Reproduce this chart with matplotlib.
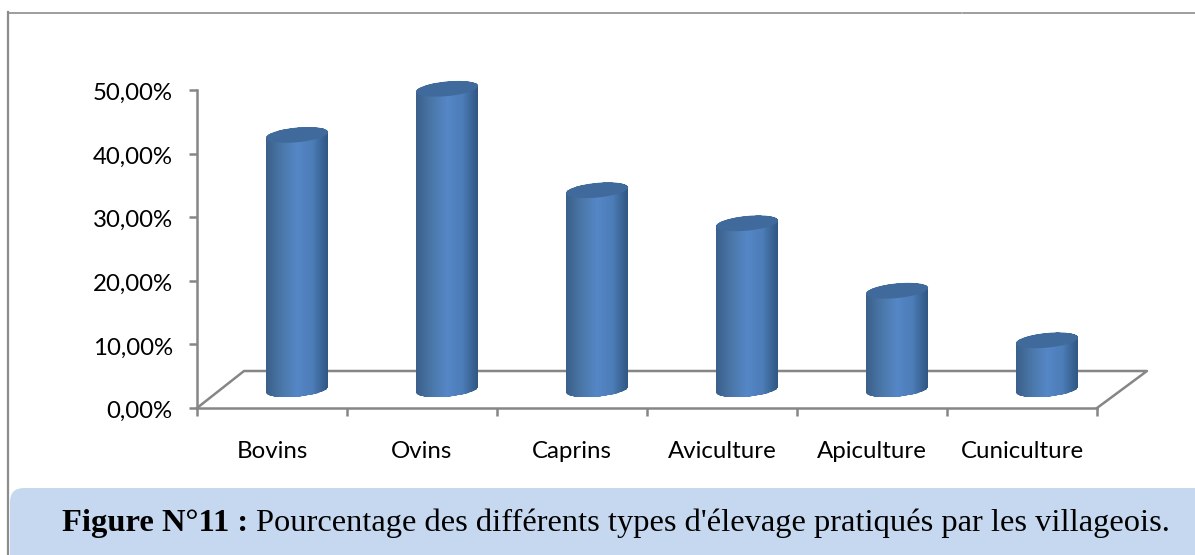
# -*- coding: utf-8 -*-

"""Pourcentage des types d'elevage, barres cylindriques facon Excel 3D."""

import numpy as np
import matplotlib
matplotlib.use("Agg")
import matplotlib.pyplot as plt
from matplotlib.colors import LinearSegmentedColormap
from matplotlib.patches import FancyBboxPatch, PathPatch
from matplotlib.path import Path
from matplotlib.transforms import ScaledTranslation

# =============================================================================
# DATA
# =============================================================================

categories = ["Bovins", "Ovins", "Caprins", "Aviculture", "Apiculture", "Cuniculture"]
values = [40.05, 47.3, 31.35, 26.15, 15.55, 7.75]
y_ticks = [0, 10, 20, 30, 40, 50]
y_labels = ["0,00%", "10,00%", "20,00%", "30,00%", "40,00%", "50,00%"]

caption_bold = "Figure N°11 :"
caption_text = "Pourcentage des différents types d'élevage pratiqués par les villageois."

# =============================================================================
# STYLE
# =============================================================================

W, H = 1195, 555
GREY = "#868686"
DEPTH_X = 47 / 150
DEPTH_X_END = 50 / 150
DEPTH_Y = 37 / 6.36
BAR_DX = 0.167
BAR_DY = 2.89
HALF_W = 0.207
ELL_B = 1.15
ELL_TILT = 0.45

cmap = LinearSegmentedColormap.from_list(
    "cyl", ["#3A5F8A", "#4A77A8", "#5586C6", "#4C7DB8", "#305682"])

# =============================================================================
# FIGURE
# =============================================================================

fig = plt.figure(figsize=(W / 100, H / 100), dpi=100)

# fond : cadre et legende, en pixels
bg = fig.add_axes([0, 0, 1, 1])
bg.set_xlim(0, W)
bg.set_ylim(H, 0)
bg.axis("off")
bg.plot([8, 8], [12, H], color="#8c8c8c", lw=1.6)
bg.plot([8, 961], [12.5, 12.5], color="#8c8c8c", lw=1.2)
bg.plot([963, W], [12.5, 12.5], color="#8c8c8c", lw=1.2)
bg.add_patch(FancyBboxPatch((10, 488), W + 30, 100,
                            boxstyle="round,pad=0,rounding_size=14",
                            fc="#C5D8EF", ec="none"))

t1 = bg.text(62, 531, caption_bold, family="Liberation Serif", fontweight="bold",
             fontsize=23.4, color="black", va="baseline")
fig.canvas.draw()
x_end = t1.get_window_extent().x1
bg.text(x_end + 8, 531, caption_text, family="Liberation Serif",
        fontsize=23.4, color="black", va="baseline")

# graphique
ax = fig.add_axes([197 / W, 1 - 408 / H, 900 / W, 318 / H])
ax.patch.set_alpha(0)
ax.set_xlim(0, 6)
ax.set_ylim(0, 50)

for s in ["top", "right"]:
    ax.spines[s].set_visible(False)
for s in ["left", "bottom"]:
    ax.spines[s].set_color(GREY)
    ax.spines[s].set_linewidth(1.8)

ax.set_yticks(y_ticks)
ax.set_yticklabels(y_labels, family="Lato", fontsize=17.3, color="black")
ax.set_xticks(range(7))
ax.set_xticklabels([])
ax.set_xticks(np.arange(6) + 0.5, minor=True)
ax.set_xticklabels(categories, minor=True, family="Lato", fontsize=17.3, color="black")
ax.tick_params(axis="both", which="major", color=GREY, width=1.8, length=6)
ax.tick_params(axis="y", pad=11.5)
ax.tick_params(axis="x", which="minor", length=0, pad=24)

# les etiquettes Y descendent un peu (metriques de Lato)
shift = ScaledTranslation(0, -1.5 / 100, fig.dpi_scale_trans)
for lab in ax.get_yticklabels():
    lab.set_transform(lab.get_transform() + shift)

# plancher
ax.plot([0, DEPTH_X, 6 + DEPTH_X_END, 6], [0, DEPTH_Y, DEPTH_Y, 0],
        color=GREY, lw=1.8, clip_on=False, zorder=1)

t = np.linspace(0, 2 * np.pi, 120)
grad = np.linspace(0, 1, 128).reshape(1, -1)


def ellipse(cx, cy):
    return cx + HALF_W * np.cos(t), cy + ELL_B * np.sin(t) + ELL_TILT * np.cos(t)


for i, v in enumerate(values):
    cx = i + 0.5 + BAR_DX
    base = BAR_DY
    top = BAR_DY + v

    # corps du cylindre : bas de l'ellipse du pied, haut de l'ellipse du sommet
    xb, yb = ellipse(cx, base)
    xt, yt = ellipse(cx, top)
    lower = t >= np.pi
    upper = t <= np.pi
    order = np.argsort(xb[lower])
    px = np.concatenate([xb[lower][order], xt[upper]])
    py = np.concatenate([yb[lower][order], yt[upper]])
    body = PathPatch(Path(np.column_stack([px, py])), fc="none", ec="none",
                     transform=ax.transData, clip_on=False)
    ax.add_patch(body)
    xs = np.linspace(cx - HALF_W, cx + HALF_W, grad.shape[1] + 1)
    mesh = ax.pcolormesh(xs, [base - 3, top + 3], grad, cmap=cmap, zorder=3,
                         shading="flat", antialiased=False)
    mesh.set_clip_path(body)
    mesh.set_clip_box(None)

    # sommet
    ax.fill(xt, yt, color="#3F6A9B", lw=0, zorder=4, clip_on=False)

ax.set_xlim(0, 6)
ax.set_ylim(0, 50)

fig.savefig("out.png", dpi=100)
plt.close(fig)
